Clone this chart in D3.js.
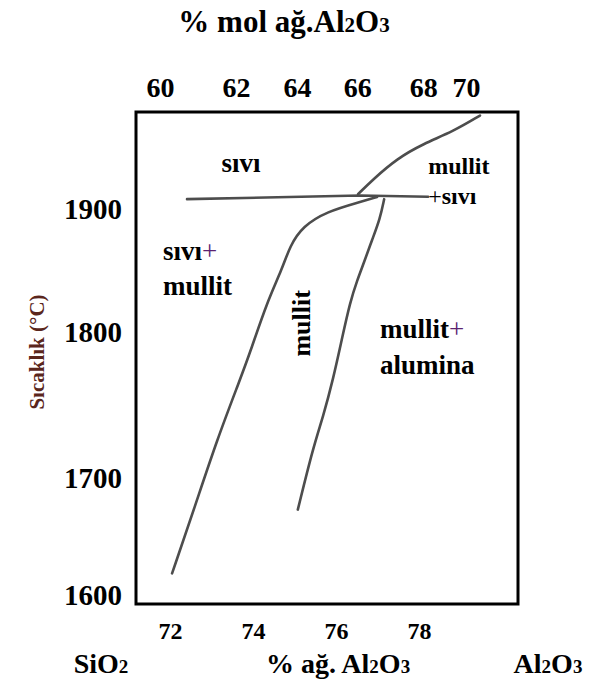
<!DOCTYPE html>
<html>
<head>
<meta charset="utf-8">
<script src="https://cdn.jsdelivr.net/npm/d3@7"></script>
<style>
  html, body { margin: 0; padding: 0; background: #fff; }
  svg { display: block; }
  text { font-family: "Liberation Serif", "Times New Roman", serif; font-weight: bold; fill: #000; }
</style>
</head>
<body>
<svg id="chart" width="590" height="692"></svg>
<script>
// Axis ticks
const tempTicks = [1600, 1700, 1800, 1900];          // °C
const wtTicks = [72, 74, 76, 78];                     // wt% Al2O3
const molTicks = [60, 62, 64, 66, 68, 70];            // mol% Al2O3
const molTickWt = [71.76, 73.59, 75.06, 76.51, 78.10, 79.13]; // same compositions in wt%

// Liquid / (liquid + mullite) horizontal boundary
const liqLineWt = [72.41, 76.58, 78.22];
const liqLineT  = [1908, 1911, 1910];

// Mullite liquidus rising toward alumina side
const mulLiqWt = [76.53, 76.89, 77.47, 78.10, 78.82, 79.47];
const mulLiqT  = [1912, 1924, 1941, 1953, 1963, 1976];

// Silica-side limit of the mullite field
const leftWt = [72.05, 72.60, 73.13, 73.69, 73.93, 74.34, 74.70, 74.89, 75.20, 75.78, 76.58, 76.99];
const leftT  = [1618.5, 1675.6, 1726, 1767.6, 1786, 1824.4, 1851, 1870, 1886, 1898, 1905.7, 1909.8];

// Alumina-side limit of the mullite field
const rightWt = [75.08, 75.45, 75.69, 75.93, 76.14, 76.34, 76.51, 76.68, 76.87, 77.06, 77.16];
const rightT  = [1673, 1721, 1742, 1767.6, 1795, 1824.4, 1842, 1857, 1875, 1892, 1908];

const svg = d3.select("#chart");
const frame = { left: 136, top: 112, right: 518, bottom: 604 };

const x = d3.scaleLinear().domain([72, 78]).range([170, 419]);
const y = d3.scaleLinear().domain([1600, 1700, 1800, 1900]).range([595, 478, 332, 209]);
const xMol = d3.scaleLinear().domain(molTicks).range(molTickWt.map(x));

// Plot frame
svg.append("rect")
  .attr("x", frame.left).attr("y", frame.top)
  .attr("width", frame.right - frame.left)
  .attr("height", frame.bottom - frame.top)
  .attr("fill", "none").attr("stroke", "#000").attr("stroke-width", 3);

// Axes (labels only, no tick marks)
const fmt = d3.format("d");
const yAxis = svg.append("g")
  .attr("transform", `translate(${frame.left},0)`)
  .call(d3.axisLeft(y).tickValues(tempTicks).tickSize(0).tickPadding(14).tickFormat(fmt));
const xAxis = svg.append("g")
  .attr("transform", `translate(0,${frame.bottom})`)
  .call(d3.axisBottom(x).tickValues(wtTicks).tickSize(0).tickPadding(18).tickFormat(fmt));
const topAxis = svg.append("g")
  .attr("transform", `translate(0,${frame.top})`)
  .call(d3.axisTop(xMol).tickValues(molTicks).tickSize(0).tickPadding(15).tickFormat(fmt));

[yAxis, xAxis, topAxis].forEach(g => {
  g.select(".domain").remove();
  g.selectAll("text").attr("fill", "#000")
    .style("font-family", '"Liberation Serif", serif').style("font-weight", "bold");
});
yAxis.selectAll("text").style("font-size", "29px");
xAxis.selectAll("text").style("font-size", "24px");
topAxis.selectAll("text").style("font-size", "28px");

// Phase boundaries
const smooth = d3.line().x(d => x(d[0])).y(d => y(d[1])).curve(d3.curveBasis);
const straight = d3.line().x(d => x(d[0])).y(d => y(d[1]));
const g = svg.append("g")
  .attr("fill", "none")
  .attr("stroke", "#4d4d4d")
  .attr("stroke-width", 2.6)
  .attr("stroke-linecap", "round");
g.append("path").attr("d", straight(d3.zip(liqLineWt, liqLineT)));
g.append("path").attr("d", smooth(d3.zip(mulLiqWt, mulLiqT)));
g.append("path").attr("d", smooth(d3.zip(leftWt, leftT)));
g.append("path").attr("d", smooth(d3.zip(rightWt, rightT)));

// Field labels
function label(txt, wt, t, size, anchor) {
  return svg.append("text")
    .attr("x", x(wt)).attr("y", y(t)).attr("dy", "0.3em")
    .attr("text-anchor", anchor || "start")
    .style("font-size", size + "px")
    .text(txt);
}
label("sıvı", 73.71, 1936.6, 27, "middle");
label("mullit", 78.96, 1934, 24, "middle");
const ls = label("", 78.22, 1910, 24);
ls.append("tspan").style("font-weight", "normal").text("+");
ls.append("tspan").text("sıvı");

const sl = label("sıvı", 71.83, 1865, 27);
sl.append("tspan").style("font-weight", "normal").style("fill", "#5b2270").text("+");
label("mullit", 71.83, 1836.6, 27);

const ma = label("mullit", 77.06, 1802, 27);
ma.append("tspan").style("font-weight", "normal").style("fill", "#5b2270").text("+");
label("alumina", 77.06, 1776.5, 27);

svg.append("text")
  .attr("transform", `translate(${x(75.18)},${y(1807)}) rotate(-90)`)
  .attr("text-anchor", "middle").attr("dy", "0.3em")
  .style("font-size", "26px")
  .text("mullit");

// Chemical-formula titles with small subscripts
function formula(parts, cx, baseline, size) {
  const t = svg.append("text")
    .attr("x", cx).attr("y", baseline)
    .attr("text-anchor", "middle")
    .style("font-size", size + "px");
  parts.forEach(p => {
    const s = t.append("tspan").text(p.s);
    if (p.sub) s.style("font-size", Math.round(size * 0.68) + "px");
  });
  return t;
}
formula([{s: "% mol ağ.Al"}, {s: "2", sub: true}, {s: "O"}, {s: "3", sub: true}], 284, 32, 31);
formula([{s: "SiO"}, {s: "2", sub: true}], 101, 673, 28);
formula([{s: "% ağ. Al"}, {s: "2", sub: true}, {s: "O"}, {s: "3", sub: true}], 338, 673, 28);
formula([{s: "Al"}, {s: "2", sub: true}, {s: "O"}, {s: "3", sub: true}], 548, 673, 28);

// Temperature axis title
svg.append("text")
  .attr("transform", "translate(37,352) rotate(-90)")
  .attr("text-anchor", "middle").attr("dy", "0.35em")
  .style("font-size", "21px")
  .style("font-weight", "bold")
  .style("fill", "#5a261c")
  .text("Sıcaklık (°C)");
</script>
</body>
</html>
